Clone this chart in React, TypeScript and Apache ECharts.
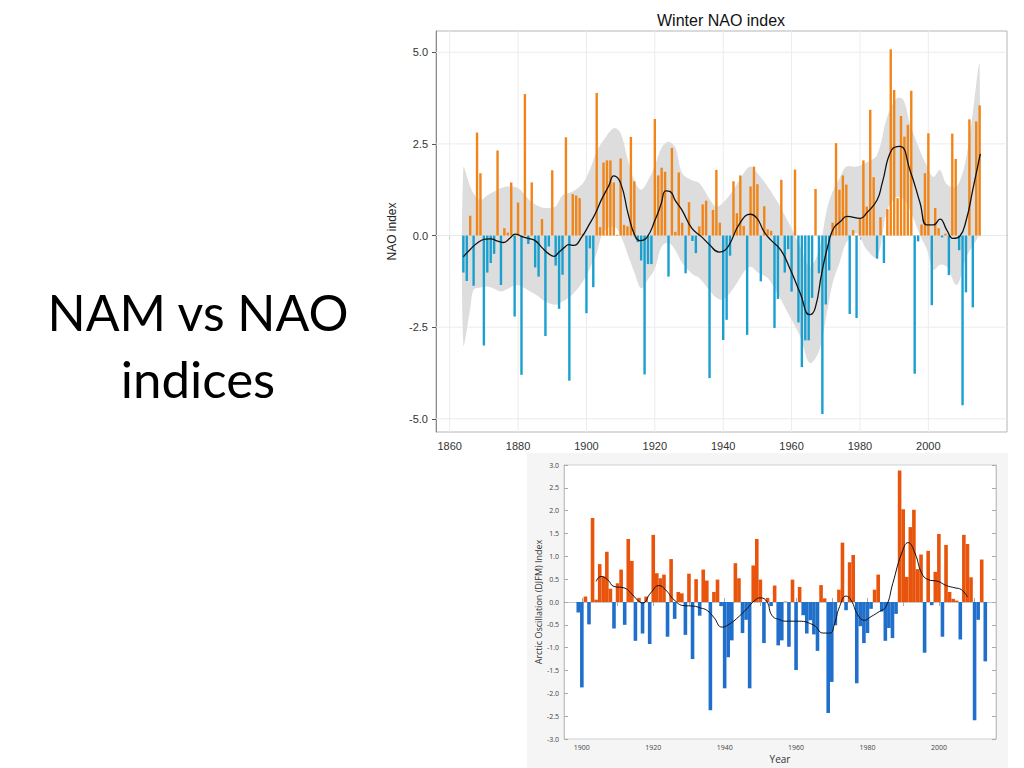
import React, { useEffect, useRef } from "react";
import * as echarts from "echarts";

// ---------- Winter NAO index (top chart) ----------
const NAO_START_YEAR = 1864;
const naoValues = [
  -1.01, -1.24, 0.54, -1.37, 2.81, 1.7, -3.0, -1.01, -0.75, -0.5,
  2.32, -1.35, 0.2, 0.08, 1.45, -2.21, 0.9, -3.8, 3.86, -0.23,
  1.45, -0.87, -1.12, 0.45, -2.74, -0.3, 1.78, -0.82, -2.0, -1.07,
  2.68, -3.96, 1.13, 1.09, 1.02, 0.05, -2.12, -0.35, -1.41, 3.89,
  0.23, 1.99, 2.05, 2.05, 1.45, 0.02, 2.1, 0.29, 0.25, 2.69,
  1.48, -0.18, -0.68, -3.79, -0.78, -0.78, 3.18, 1.64, 1.85, 1.74,
  -1.12, 2.39, 0.1, 1.72, 0.35, -1.03, 0.91, -0.15, -0.48, 0.25,
  0.85, 0.95, -3.89, 0.7, 1.79, 0.35, -2.85, -2.3, -0.55, 1.48,
  0.61, 1.64, 0.26, -2.71, 1.34, 1.88, 1.4, -1.25, 0.8, 0.17,
  0.13, -2.52, -1.73, 1.52, -1.01, -0.37, -1.53, 1.8, -2.37, -3.59,
  -2.86, -2.86, -1.7, 1.27, -1.03, -4.87, -1.88, -0.95, 0.35, 2.52,
  1.25, 1.64, 1.39, -2.14, 0.15, -2.25, 0.45, 2.05, 0.79, 3.43,
  1.59, -0.63, 0.5, -0.75, 0.72, 5.08, 3.97, 1.02, 3.26, 2.7,
  3.02, 3.95, -3.77, -0.16, 0.3, 1.7, 2.79, -1.9, 0.75, 0.2,
  -0.05, 0.05, -1.08, 2.78, 2.09, -0.4, -4.63, -1.55, 3.17, -1.96,
  3.11, 3.55,
];
const naoSmoothYears = [
  1864, 1866, 1868, 1870.4, 1872, 1874, 1875.8, 1877.5, 1879.2, 1881, 1883, 1885,
  1887, 1889, 1890.5, 1892, 1893.5, 1894.8, 1896.3, 1898.7, 1900.5, 1902.6, 1904.5,
  1906.5, 1908, 1910, 1912.3, 1914.3, 1915.7, 1917.7, 1920.1, 1921.8, 1923.2, 1924.5,
  1926, 1927.9, 1930.8, 1933.6, 1936, 1938.8, 1940.5, 1942, 1944.9, 1947.9, 1949.9,
  1951.9, 1953.9, 1956.8, 1959.7, 1962.5, 1965.3, 1966.9, 1968.8, 1970.8, 1972.3,
  1974.3, 1976.2, 1980.1, 1982, 1985, 1986.5, 1989.3, 1991.7, 1994.6, 1997.6, 1999.5,
  2001.5, 2003.4, 2005.4, 2007.3, 2009.2, 2011.1, 2013, 2015.2,
];
const naoSmoothValues = [
  -0.58, -0.38, -0.21, -0.1, -0.09, -0.15, -0.19, -0.08, 0.04, -0.02, -0.08, -0.14,
  -0.33, -0.5, -0.57, -0.45, -0.33, -0.25, -0.27, -0.03, 0.25, 0.6, 1.0,
  1.35, 1.63, 1.43, 0.55, -0.03, -0.14, -0.05, 0.43, 0.85, 1.22, 1.2,
  0.95, 0.7, 0.2, -0.03, -0.25, -0.45, -0.4, -0.21, 0.34, 0.58, 0.47,
  0.11, -0.12, -0.39, -0.94, -1.57, -2.16, -1.98, -1.03, -0.21, 0.2,
  0.38, 0.52, 0.47, 0.62, 0.97, 1.43, 2.34, 2.43, 1.79, 0.88, 0.29,
  0.29, 0.45, 0.15, -0.08, -0.02, 0.43, 1.25, 2.23,
];
const naoBandYears = [
  1864, 1866, 1867, 1869, 1871, 1873, 1875, 1877, 1880, 1883, 1885, 1888, 1891, 1893,
  1896, 1899, 1901, 1903, 1905, 1908, 1910, 1912, 1914, 1916, 1918, 1920, 1922, 1924,
  1926, 1928, 1931, 1933, 1936, 1938, 1940, 1943, 1946, 1948, 1950, 1953, 1956, 1958,
  1960, 1962.5, 1965.3, 1968, 1970.3, 1972, 1974, 1976, 1979, 1982, 1985, 1988,
  1990.8, 1992.7, 1994.6, 1997.6, 1999.6, 2001.5, 2003.4, 2005.4, 2008.3, 2011.2,
  2014.6, 2015,
];
const naoBandLower = [
  -2.98, -2.0, -1.48, -1.42, -1.39, -1.45, -1.53, -1.45, -1.35, -1.5, -1.6, -1.8, -1.89, -1.8,
  -1.6, -1.25, -0.9, -0.48, 0.1, 0.25, 0.0, -0.5, -1.0, -1.44, -1.2, -0.9, -0.3, -0.2,
  -0.4, -0.75, -1.05, -1.16, -1.5, -1.7, -1.75, -1.44, -1.0, -0.85, -1.0, -1.16, -1.6, -1.95,
  -2.3, -2.75, -3.48, -3.16, -2.12, -1.3, -0.75, -0.2, 0.06, -0.39, -0.6, 0.7,
  1.05, 1.0, 0.7, 0.0, -0.39, -0.94, -0.8, -0.85, -1.35, -0.57,
  -0.03, 0.1,
];
const naoBandUpper = [
  1.84, 1.34, 1.15, 0.97, 1.1, 1.2, 1.3, 1.34, 1.3, 1.0, 0.85, 0.75, 0.8, 1.1,
  1.2, 1.43, 1.8, 2.29, 2.6, 2.93, 2.79, 2.1, 1.5, 1.25, 1.5, 1.9, 2.4, 2.56,
  2.4, 1.7, 1.5, 1.43, 1.0, 0.79, 0.9, 1.25, 1.7, 1.88, 1.7, 1.34, 0.9, 0.55,
  0.2, -0.3, -0.85, -0.4, 0.7, 1.2, 1.55, 1.88, 1.88, 2.0, 2.2, 3.25,
  3.75, 3.7, 3.06, 2.3, 1.9, 1.6, 1.79, 1.4, 1.34, 2.2,
  4.56, 4.7,
];
const naoXTicks = [1860, 1880, 1900, 1920, 1940, 1960, 1980, 2000];
const naoYTicks = [-5, -2.5, 0, 2.5, 5];

// ---------- Arctic Oscillation (bottom chart) ----------
const AO_START_YEAR = 1899;
const aoValues = [
  -0.23, -1.87, 0.12, -0.49, 1.84, 0.05, 0.83, 0.56, 1.1, 0.29,
  -0.58, 0.41, 0.71, -0.5, 1.38, 0.9, -0.85, 0.09, -0.69, 0.12,
  -0.92, 1.47, 0.63, 0.52, 0.6, -0.76, 0.94, -0.37, 0.22, 0.19,
  -0.72, 0.62, -1.25, 0.5, -0.3, 0.71, 0.47, -2.37, 0.22, 0.49,
  -0.09, -1.89, -1.21, -0.84, 0.85, 0.52, -0.68, -0.39, -1.89, 0.8,
  1.38, 0.49, -0.9, 0.09, -0.09, 0.36, -0.95, -0.84, 0.01, -0.98,
  0.49, -1.49, 0.33, -0.29, -0.69, -0.4, -0.71, -1.07, 0.37, 0.08,
  -2.43, -1.75, -0.51, 0.27, 1.3, -0.18, 0.87, 1.03, -1.78, -0.53,
  -0.9, -0.68, -0.15, 0.27, 0.6, -0.21, -0.85, -0.57, -0.79, -0.26,
  2.88, 2.03, 0.55, 1.64, 2.02, 0.72, 1.04, -1.11, 1.12, -0.07,
  0.66, 1.49, -0.76, 1.25, 0.22, 0.07, 0.03, -0.82, 1.47, 1.27,
  0.54, -2.59, -0.39, 0.93, -1.3,
];
const aoSmoothYears = [
  1904, 1905.3, 1907.2, 1909, 1911.8, 1913.7, 1915.5, 1917, 1919.3, 1921.6, 1923.4,
  1925.8, 1928.6, 1931.3, 1933.2, 1935, 1936.9, 1939.3, 1941.6, 1943.4, 1946.2, 1948.5,
  1950, 1951.8, 1953.3, 1955.5, 1957, 1960.1, 1964.8, 1967.6, 1969.5, 1970.8, 1972.2,
  1974, 1975.4, 1977.3, 1979.1, 1981, 1983.3, 1985.2, 1987.1, 1989.6, 1991.4, 1993.3,
  1995.2, 1997, 1999.8, 2002.1, 2004.5, 2006.3, 2008,
];
const aoSmoothValues = [
  0.45, 0.56, 0.49, 0.34, 0.31, 0.2, 0.05, -0.02, 0.2, 0.36, 0.27,
  0.05, -0.08, -0.09, -0.13, -0.18, -0.33, -0.55, -0.47, -0.36, -0.15, 0.04,
  0.09, 0.01, -0.3, -0.39, -0.42, -0.42, -0.5, -0.68, -0.68, -0.47, -0.1,
  0.13, 0.04, -0.28, -0.4, -0.32, -0.21, -0.1, 0.41, 1.07, 1.3, 1.07,
  0.63, 0.49, 0.45, 0.36, 0.31, 0.27, 0.11,
];
const aoXLabelYears = [1900, 1920, 1940, 1960, 1980, 2000];
const aoXTickYears = [1900, 1910, 1920, 1930, 1940, 1950, 1960, 1970, 1980, 1990, 2000, 2010];

const NAO_ORANGE = "#f08519";
const NAO_BLUE = "#1aa0cf";
const AO_RED = "#e8540c";
const AO_BLUE = "#1f6fcb";

const NAO_X_MIN = 1856;
const NAO_X_MAX = 2023;
const NAO_Y_MIN = -5.36;
const NAO_Y_MAX = 5.58;

function buildOption(): any {
  const naoBars = naoValues.map((v, i) => [NAO_START_YEAR + i, v]);
  const naoSmooth = naoSmoothYears.map((y, i) => [y, naoSmoothValues[i]]);
  const bandData = naoBandYears.map((y, i) => [y, naoBandLower[i], naoBandUpper[i]]);
  const aoBars = aoValues.map((v, i) => [AO_START_YEAR + i, v]);
  const aoSmooth = aoSmoothYears.map((y, i) => [y, aoSmoothValues[i]]);

  const topFont = "Liberation Sans, Arial, sans-serif";
  const botFont = "Open Sans, DejaVu Sans, sans-serif";
  const yearFmt = (v: number) => String(Math.round(v));

  const bandRender = (params: any, api: any) => {
    if (params.dataIndex !== 0) return null;
    const children: any[] = [];
    naoXTicks.forEach((x) => {
      const a = api.coord([x, NAO_Y_MIN]);
      const b = api.coord([x, NAO_Y_MAX]);
      children.push({
        type: "line",
        shape: { x1: a[0], y1: a[1], x2: b[0], y2: b[1] },
        style: { stroke: "#ececec", lineWidth: 1 },
      });
    });
    naoYTicks.forEach((y) => {
      const a = api.coord([NAO_X_MIN, y]);
      const b = api.coord([NAO_X_MAX, y]);
      children.push({
        type: "line",
        shape: { x1: a[0], y1: a[1], x2: b[0], y2: b[1] },
        style: { stroke: "#ececec", lineWidth: 1 },
      });
    });
    const upper = naoBandYears.map((yr, i) => api.coord([yr, naoBandUpper[i]]));
    const lower = naoBandYears.map((yr, i) => api.coord([yr, naoBandLower[i]])).reverse();
    children.push({
      type: "polygon",
      shape: { points: upper.concat(lower), smooth: 0.35 },
      style: { fill: "#dddddd", stroke: "none" },
    });
    return { type: "group", children };
  };

  return {
    animation: false,
    backgroundColor: "#ffffff",
    graphic: [
      {
        type: "rect",
        z: -10,
        shape: { x: 527, y: 453, width: 481, height: 315 },
        style: { fill: "#f5f5f5" },
        silent: true,
      },
      {
        type: "text",
        x: 198,
        y: 312,
        style: {
          text: "NAM vs NAO",
          fontSize: 50,
          fontFamily: "Lato, Noto Sans, sans-serif",
          fill: "#000",
          textAlign: "center",
          textVerticalAlign: "middle",
        },
      },
      {
        type: "text",
        x: 198,
        y: 378,
        style: {
          text: "indices",
          fontSize: 51,
          fontFamily: "Lato, Noto Sans, sans-serif",
          fill: "#000",
          textAlign: "center",
          textVerticalAlign: "middle",
        },
      },
      {
        type: "text",
        x: 721,
        y: 20,
        style: {
          text: "Winter NAO index",
          fontSize: 16,
          fontFamily: topFont,
          fill: "#111",
          textAlign: "center",
          textVerticalAlign: "middle",
        },
      },
    ],
    grid: [
      {
        left: 436,
        top: 31,
        width: 571,
        height: 401,
        show: true,
        backgroundColor: "#fff",
        borderColor: "#b5b5b5",
        borderWidth: 1,
      },
      {
        left: 564,
        top: 465,
        width: 432,
        height: 274,
        show: true,
        backgroundColor: "#fff",
        borderColor: "#cfcfcf",
        borderWidth: 1,
      },
    ],
    xAxis: [
      {
        gridIndex: 0,
        type: "value",
        min: NAO_X_MIN,
        max: NAO_X_MAX,
        axisLine: { show: true, lineStyle: { color: "#8a8a8a" } },
        axisTick: { show: true, length: 4, customValues: naoXTicks, lineStyle: { color: "#555" } },
        axisLabel: {
          customValues: naoXTicks,
          fontSize: 11,
          color: "#333",
          fontFamily: topFont,
          margin: 8,
          formatter: yearFmt,
        },
        splitLine: { show: false },
      },
      {
        gridIndex: 1,
        type: "value",
        min: 1895,
        max: 2016,
        position: "bottom",
        name: "Year",
        nameLocation: "middle",
        nameGap: 15,
        nameTextStyle: { fontSize: 10, color: "#333", fontFamily: botFont },
        axisLine: { show: true, lineStyle: { color: "#c4c4c4" } },
        axisTick: { show: true, inside: true, length: 4, customValues: aoXTickYears, lineStyle: { color: "#aaa" } },
        axisLabel: {
          customValues: aoXLabelYears,
          fontSize: 7,
          color: "#444",
          fontFamily: botFont,
          margin: 5,
          formatter: yearFmt,
        },
        splitLine: { show: false },
      },
      {
        gridIndex: 1,
        type: "value",
        min: 1895,
        max: 2016,
        position: "top",
        axisLine: { show: true, lineStyle: { color: "#c4c4c4" } },
        axisTick: { show: true, inside: true, length: 4, customValues: aoXTickYears, lineStyle: { color: "#aaa" } },
        axisLabel: { show: false },
        splitLine: { show: false },
      },
    ],
    yAxis: [
      {
        gridIndex: 0,
        type: "value",
        min: NAO_Y_MIN,
        max: NAO_Y_MAX,
        name: "NAO index",
        nameLocation: "middle",
        nameGap: 31,
        nameTextStyle: { fontSize: 12, color: "#222", fontFamily: topFont },
        axisLine: { show: true, lineStyle: { color: "#8a8a8a" } },
        axisTick: { show: true, length: 4, customValues: naoYTicks, lineStyle: { color: "#555" } },
        axisLabel: {
          customValues: naoYTicks,
          fontSize: 11,
          color: "#333",
          fontFamily: topFont,
          margin: 8,
          formatter: (v: number) => v.toFixed(1),
        },
        splitLine: { show: false },
      },
      {
        gridIndex: 1,
        type: "value",
        min: -3,
        max: 3,
        interval: 0.5,
        name: "Arctic Oscillation (DJFM) Index",
        nameLocation: "middle",
        nameGap: 21,
        nameTextStyle: { fontSize: 9, color: "#333", fontFamily: botFont },
        axisLine: { show: true, lineStyle: { color: "#c4c4c4" } },
        axisTick: { show: true, inside: true, length: 4, lineStyle: { color: "#aaa" } },
        axisLabel: {
          fontSize: 7,
          color: "#444",
          fontFamily: botFont,
          margin: 5,
          formatter: (v: number) => v.toFixed(1),
        },
        splitLine: { show: false },
      },
      {
        gridIndex: 1,
        type: "value",
        min: -3,
        max: 3,
        interval: 0.5,
        position: "right",
        axisLine: { show: true, lineStyle: { color: "#c4c4c4" } },
        axisTick: { show: true, inside: true, length: 4, lineStyle: { color: "#aaa" } },
        axisLabel: { show: false },
        splitLine: { show: false },
      },
    ],
    series: [
      {
        name: "NAO band",
        type: "custom",
        coordinateSystem: "cartesian2d",
        xAxisIndex: 0,
        yAxisIndex: 0,
        data: bandData,
        encode: { x: 0, y: [1, 2] },
        renderItem: bandRender,
        clip: true,
        silent: true,
        z: 1,
      },
      {
        name: "NAO",
        type: "bar",
        xAxisIndex: 0,
        yAxisIndex: 0,
        data: naoBars,
        barWidth: 2.4,
        itemStyle: {
          color: (p: any) => (p.value[1] >= 0 ? NAO_ORANGE : NAO_BLUE),
        },
        z: 2,
      },
      {
        name: "NAO smooth",
        type: "line",
        xAxisIndex: 0,
        yAxisIndex: 0,
        data: naoSmooth,
        smooth: 0.5,
        symbol: "none",
        lineStyle: { color: "#111", width: 1.3 },
        z: 3,
      },
      {
        name: "AO",
        type: "bar",
        xAxisIndex: 1,
        yAxisIndex: 1,
        data: aoBars,
        barWidth: 3.6,
        itemStyle: {
          color: (p: any) => (p.value[1] >= 0 ? AO_RED : AO_BLUE),
        },
        z: 2,
      },
      {
        name: "AO smooth",
        type: "line",
        xAxisIndex: 1,
        yAxisIndex: 1,
        data: aoSmooth,
        smooth: 0.5,
        symbol: "none",
        lineStyle: { color: "#111", width: 1 },
        z: 3,
      },
    ],
  };
}

export default function App() {
  const ref = useRef<HTMLDivElement>(null);
  useEffect(() => {
    if (!ref.current) return;
    const chart = echarts.init(ref.current, null, { renderer: "svg" });
    chart.setOption(buildOption());
    return () => chart.dispose();
  }, []);
  return (
    <div
      ref={ref}
      style={{ position: "fixed", left: 0, top: 0, width: 1024, height: 768, background: "#fff" }}
    />
  );
}
